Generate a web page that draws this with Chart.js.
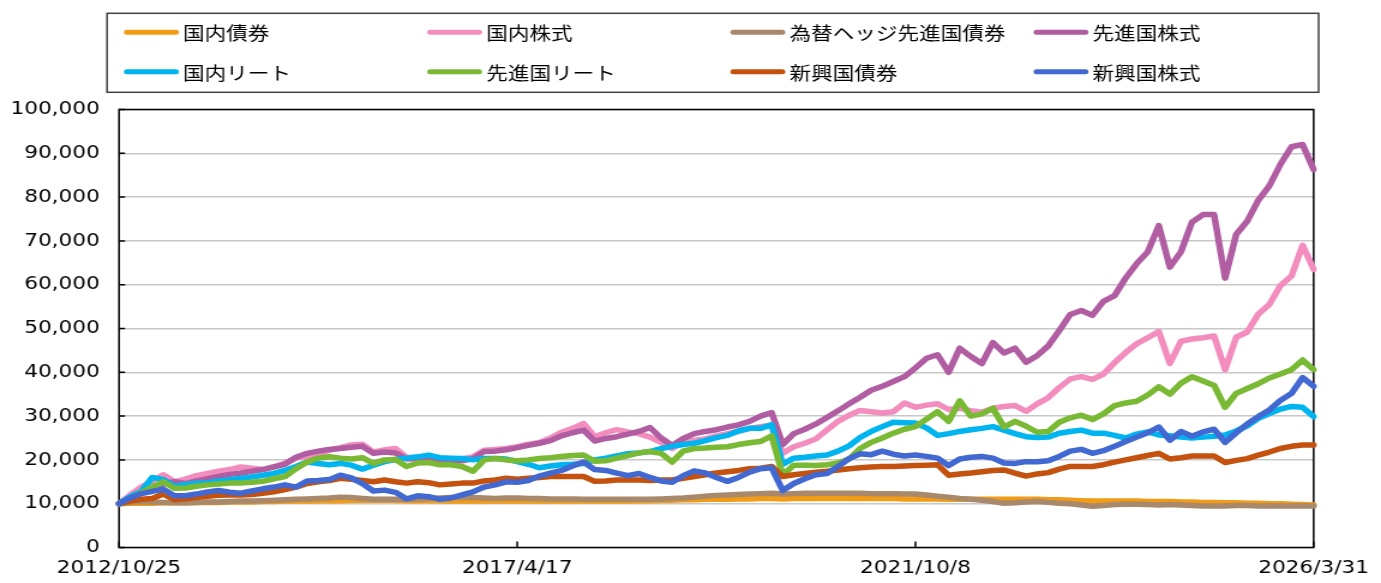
<!DOCTYPE html>
<html lang="ja">
<head>
<meta charset="utf-8">
<title>資産クラス別 推移</title>
<script src="https://cdn.jsdelivr.net/npm/chart.js@4.4.1/dist/chart.umd.min.js"></script>
<style>
  html, body { margin: 0; padding: 0; background: #fff; }
</style>
</head>
<body>
<!-- drawn at 1151 wide and shown at 1381 wide, the reference is stretched the same way -->
<canvas id="chart" width="1151" height="583" style="width:1381px;height:583px"></canvas>
<script>
const tickLabels = ['2012/10/25', '2017/4/17', '2021/10/8', '2026/3/31'];
const tickEvery = 36; // points between two date labels

const seriesNames = ['国内債券', '国内株式', '為替ヘッジ先進国債券', '先進国株式',
                     '国内リート', '先進国リート', '新興国債券', '新興国株式'];
const seriesColors = ['#f29b14', '#f38dbd', '#a8896c', '#b05da2',
                      '#00b5ef', '#7ab933', '#c4520e', '#4169d1'];

// values, one point about every 45 days
const jpBond = [
  10000, 10100, 10100, 10100, 10200, 10200, 10200, 10300, 10300, 10300,
  10400, 10400, 10400, 10500, 10500, 10600, 10600, 10600, 10700, 10700,
  10700, 10800, 10800, 10800, 10800, 10800, 10700, 10700, 10700, 10700,
  10600, 10600, 10600, 10600, 10600, 10600, 10600, 10600, 10600, 10600,
  10600, 10600, 10600, 10600, 10600, 10600, 10600, 10700, 10700, 10800,
  10800, 10900, 10900, 11000, 11000, 11000, 11100, 11100, 11200, 11200,
  11100, 11200, 11200, 11200, 11200, 11200, 11200, 11200, 11200, 11200,
  11200, 11100, 11100, 11100, 11100, 11000, 11000, 11000, 11000, 11000,
  11000, 11000, 11000, 11000, 10900, 10900, 10800, 10700, 10600, 10600,
  10600, 10600, 10600, 10500, 10500, 10500, 10400, 10400, 10300, 10300,
  10200, 10200, 10100, 10100, 10000, 10000, 9900, 9800, 9700
];
const jpStock = [
  10000, 12000, 13800, 15200, 16600, 15000, 15600, 16400, 16900, 17400,
  17800, 18400, 18100, 17800, 18400, 19300, 20400, 20800, 21200, 22200,
  22800, 23400, 23600, 21800, 22300, 22600, 20600, 20300, 20200, 20000,
  20000, 20300, 20700, 22200, 22400, 22600, 23000, 23600, 24000, 25000,
  26300, 27200, 28300, 25300, 26200, 26900, 26400, 26000, 25200, 24000,
  22600, 24200, 24500, 24800, 25500, 26000, 26600, 27200, 27600, 28000,
  21500, 23000, 23800, 24800, 26800, 28800, 30200, 31300, 31000, 30700,
  31000, 33000, 32000, 32500, 32800, 31500, 31800, 31200, 30900, 31800,
  32200, 32400, 31100, 32800, 34200, 36500, 38500, 39000, 38400, 39600,
  42200, 44500, 46500, 47900, 49300, 42000, 47100, 47600, 47900, 48300,
  40600, 48000, 49200, 53300, 55500, 59800, 62000, 69000, 63500
];
const hedgedBond = [
  10000, 10300, 10500, 10400, 10300, 10200, 10200, 10300, 10400, 10400,
  10500, 10600, 10600, 10700, 10800, 10900, 11000, 11100, 11200, 11300,
  11500, 11400, 11200, 11000, 11000, 11000, 11000, 11100, 11200, 11300,
  11400, 11500, 11400, 11300, 11200, 11300, 11300, 11200, 11200, 11100,
  11100, 11100, 11000, 11000, 11000, 11000, 11000, 11000, 11000, 11100,
  11200, 11300, 11500, 11700, 11900, 12000, 12100, 12200, 12300, 12400,
  12200, 12300, 12400, 12400, 12400, 12400, 12400, 12400, 12300, 12300,
  12300, 12200, 12200, 12000, 11700, 11500, 11200, 11000, 10800, 10500,
  10100, 10200, 10400, 10500, 10300, 10100, 10000, 9700, 9400, 9600,
  9800, 9900, 9900, 9800, 9700, 9800, 9700, 9600, 9500, 9500,
  9500, 9600, 9600, 9500, 9500, 9500, 9500, 9500, 9500
];
const dmStock = [
  10000, 11500, 12600, 13500, 14500, 15000, 14600, 15200, 15700, 16200,
  16700, 17000, 17400, 17800, 18400, 19000, 20600, 21500, 22000, 22400,
  22600, 22900, 23100, 21500, 21800, 21600, 20200, 20300, 20400, 20000,
  19800, 19800, 20300, 21900, 22000, 22300, 22800, 23300, 23800, 24400,
  25500, 26200, 26800, 24300, 24900, 25300, 25900, 26500, 27400, 25000,
  23300, 24900, 26000, 26500, 26900, 27500, 28000, 28800, 30000, 30800,
  23500, 26000, 27000, 28200, 29700, 31200, 32800, 34300, 35900, 36800,
  37900, 39000, 41000, 43200, 44000, 40000, 45500, 43600, 42000, 46800,
  44400, 45500, 42300, 43800, 46000, 49500, 53200, 54100, 53000, 56200,
  57500, 61500, 64800, 67500, 73500, 64000, 67500, 74300, 76000, 76000,
  61500, 71500, 74500, 79300, 82600, 87500, 91500, 92000, 86300
];
const jpReit = [
  10000, 11600, 12800, 16000, 15500, 14000, 14400, 14700, 14800, 15200,
  15500, 15800, 16100, 16500, 16900, 17600, 18500, 19500, 19200, 18900,
  19200, 18800, 17900, 18800, 19600, 20100, 20400, 20700, 21100, 20500,
  20400, 20300, 20000, 20300, 20300, 20200, 19600, 19000, 18200, 18600,
  18900, 19000, 19200, 20000, 20400, 20900, 21400, 21600, 21900, 22600,
  23100, 23500, 23800, 24400, 25100, 25600, 26600, 27200, 27200, 28000,
  19000, 20400, 20600, 20900, 21100, 22000, 23200, 25100, 26500, 27600,
  28600, 28500, 28400, 27300, 25600, 26000, 26500, 26900, 27200, 27600,
  26800, 26000, 25300, 25100, 25200, 26100, 26500, 26800, 26100, 26100,
  25600, 25000, 25900, 26400, 25700, 25500, 25200, 25000, 25200, 25400,
  25700, 26600, 27800, 29500, 30600, 31600, 32200, 32000, 29900
];
const dmReit = [
  10000, 11000, 12500, 13800, 15000, 13500, 13600, 14000, 14300, 14500,
  14700, 14700, 14900, 15100, 15700, 16200, 18000, 19500, 20400, 20700,
  20400, 20200, 20500, 19200, 20000, 20100, 18500, 19300, 19400, 18900,
  18900, 18500, 17400, 20000, 20300, 20000, 19800, 20000, 20300, 20500,
  20800, 21000, 21100, 19700, 19800, 20400, 21000, 21600, 21900, 21500,
  19500, 22000, 22600, 22700, 22900, 23000, 23500, 23900, 24200, 25500,
  16500, 18800, 18800, 18700, 18900, 19300, 20200, 22600, 24000, 25000,
  26100, 27000, 27600, 29300, 31000, 28800, 33500, 30000, 30500, 31800,
  27500, 28800, 27700, 26300, 26500, 28600, 29600, 30200, 29200, 30500,
  32400, 33000, 33400, 34800, 36700, 35000, 37500, 39000, 38000, 37000,
  32000, 35200, 36300, 37400, 38700, 39600, 40600, 42800, 40600
];
const emBond = [
  10000, 10600, 11000, 11200, 12200, 10900, 11100, 11400, 11700, 11900,
  12000, 12000, 12100, 12400, 12700, 13200, 13800, 14600, 15000, 15300,
  15800, 15600, 15300, 15000, 15400, 15000, 14700, 15000, 14800, 14300,
  14500, 14700, 14700, 15200, 15400, 15800, 15600, 15800, 16000, 16200,
  16200, 16200, 16200, 15100, 15200, 15400, 15400, 15400, 15300, 15400,
  15400, 15800, 16200, 16600, 17000, 17300, 17600, 18000, 18100, 18500,
  16200, 16600, 16900, 17200, 17400, 17700, 18000, 18200, 18400, 18500,
  18500, 18600, 18700, 18800, 18900, 16500, 16800, 17000, 17300, 17600,
  17700, 17000, 16300, 16800, 17100, 17900, 18500, 18500, 18500, 18900,
  19500, 20000, 20500, 21000, 21500, 20200, 20500, 20900, 20900, 20900,
  19400, 19900, 20300, 21100, 21800, 22600, 23100, 23400, 23400
];
const emStock = [
  10000, 11300, 12300, 12800, 13300, 11800, 11800, 12200, 12700, 13000,
  12600, 12400, 12900, 13400, 13800, 14300, 13800, 15200, 15300, 15500,
  16500, 15900, 14600, 12900, 13100, 12600, 11100, 11800, 11600, 11000,
  11300, 12000, 12700, 13800, 14300, 15000, 14900, 15300, 16300, 17000,
  17600, 18600, 19500, 17800, 17600, 17000, 16400, 16900, 16000, 15200,
  14900, 16400, 17500, 17000, 16000, 15100, 16000, 17200, 18000, 18200,
  13000, 14600, 15700, 16600, 16900, 18500, 20300, 21400, 21200, 22000,
  21300, 20900, 21100, 20800, 20400, 18700, 20200, 20600, 20800, 20400,
  19300, 19200, 19600, 19600, 19800, 20800, 22000, 22400, 21500, 22100,
  23100, 24200, 25200, 26200, 27500, 24500, 26500, 25400, 26400, 27000,
  24000, 26200, 28200, 29900, 31400, 33600, 35200, 38800, 36800
];

const seriesValues = [jpBond, jpStock, hedgedBond, dmStock, jpReit, dmReit, emBond, emStock];
const pointLabels = jpBond.map((v, i) => i);

const numFont = { family: 'DejaVu Sans', size: 18 };
const jpFont = '18px "Noto Sans CJK JP", "Noto Sans", sans-serif';

// frame round the plot area and the small inward ticks
const plotFrame = {
  id: 'plotFrame',
  beforeDatasetsDraw(chart) {
    const { ctx, chartArea: a, scales } = chart;
    ctx.save();
    ctx.strokeStyle = '#000';
    ctx.lineWidth = 1.5;
    ctx.strokeRect(a.left, a.top, a.right - a.left, a.bottom - a.top);
    ctx.beginPath();
    scales.y.ticks.forEach((t, i) => {
      const y = scales.y.getPixelForTick(i);
      ctx.moveTo(a.left, y);
      ctx.lineTo(a.left + 5, y);
    });
    scales.x.ticks.forEach((t, i) => {
      if (i % tickEvery !== 0) return;
      const x = scales.x.getPixelForTick(i);
      ctx.moveTo(x, a.bottom);
      ctx.lineTo(x, a.bottom - 6);
    });
    ctx.stroke();
    ctx.restore();
  }
};

// legend in a box, 4 fixed columns x 2 rows
const legendBox = {
  id: 'legendBox',
  afterDraw(chart) {
    const ctx = chart.ctx;
    ctx.save();
    ctx.strokeStyle = '#404040';
    ctx.lineWidth = 1.5;
    ctx.strokeRect(89.2, 13.3, 1009.8, 79);
    ctx.font = jpFont;
    ctx.textBaseline = 'middle';
    ctx.fillStyle = '#000';
    ctx.lineCap = 'round';
    ctx.lineWidth = 5;
    chart.data.datasets.forEach((ds, i) => {
      const x = 103.3 + (i % 4) * 252.7;
      const y = i < 4 ? 32.3 : 71.7;
      ctx.strokeStyle = ds.borderColor;
      ctx.beginPath();
      ctx.moveTo(x + 2.5, y);
      ctx.lineTo(x + 43.3, y);
      ctx.stroke();
      ctx.fillText(ds.label, x + 49.2, y + 1);
    });
    ctx.restore();
  }
};

const datasets = seriesNames.map((name, i) => ({
  label: name,
  data: seriesValues[i],
  borderColor: seriesColors[i],
  backgroundColor: seriesColors[i],
  borderWidth: 5.5,
  borderJoinStyle: 'round',
  borderCapStyle: 'round',
  pointRadius: 0,
  tension: 0,
  order: seriesNames.length - i   // later series on top, like the original
}));

new Chart(document.getElementById('chart'), {
  type: 'line',
  data: { labels: pointLabels, datasets: datasets },
  options: {
    responsive: false,
    animation: false,
    events: [],
    layout: { padding: { top: 109.5, right: 49.3, left: 0, bottom: 0 } },
    plugins: {
      legend: { display: false },
      tooltip: { enabled: false }
    },
    scales: {
      x: {
        type: 'category',
        grid: { display: false, drawTicks: false },
        border: { display: false },
        ticks: {
          autoSkip: false,
          maxRotation: 0,
          padding: 10,
          color: '#000',
          font: numFont,
          callback: (v, i) => (i % tickEvery === 0 ? tickLabels[i / tickEvery] : '')
        },
        afterFit: s => { s.height = 35.5; }
      },
      y: {
        min: 0,
        max: 100000,
        grid: { color: '#c8c8c8', lineWidth: 1.5, drawTicks: false },
        border: { display: false },
        ticks: {
          stepSize: 10000,
          padding: 16,
          color: '#000',
          font: numFont,
          callback: v => String(v).replace(/\B(?=(\d{3})+(?!\d))/g, ',')
        },
        afterFit: s => { s.width = 99.2; }
      }
    }
  },
  plugins: [plotFrame, legendBox]
});
</script>
</body>
</html>
